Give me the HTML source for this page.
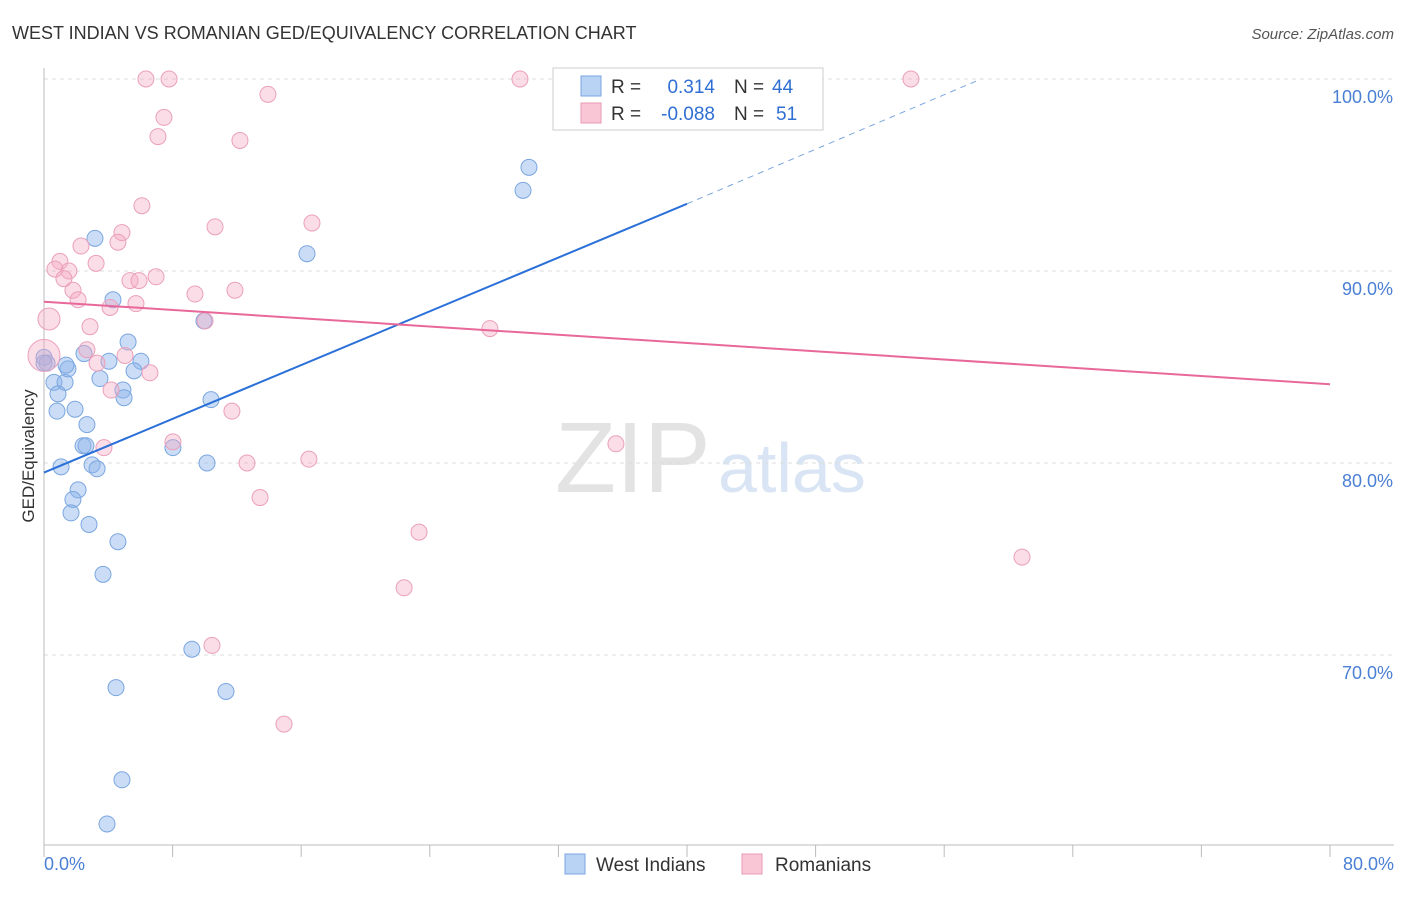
<!DOCTYPE html>
<html><head><meta charset="utf-8"><style>
body{margin:0;background:#fff;font-family:"Liberation Sans",sans-serif}
svg text{font-family:"Liberation Sans",sans-serif}
</style></head><body>
<svg id="c" width="1406" height="892" xmlns="http://www.w3.org/2000/svg">
<text x="12" y="39" font-size="18" fill="#333">WEST INDIAN VS ROMANIAN GED/EQUIVALENCY CORRELATION CHART</text>
<text x="1394" y="39" font-size="15" fill="#555" text-anchor="end" font-style="italic">Source: ZipAtlas.com</text>
<text x="34" y="456" font-size="17" fill="#333" text-anchor="middle" transform="rotate(-90 34 456)">GED/Equivalency</text>
<text x="555" y="492" font-size="100" fill="#e3e3e3" font-family="Liberation Serif">ZIP</text>
<text x="718" y="492" font-size="70" fill="#d9e5f4">atlas</text>
<g id="grid"></g><g id="axes"></g><g id="pts"></g><g id="lines"></g>
<g>
<rect x="553" y="68" width="270" height="62" fill="#fff" stroke="#ccc"/>
<rect x="581" y="76" width="20" height="20" fill="#b8d3f3" stroke="#7aa6e0"/>
<rect x="581" y="103" width="20" height="20" fill="#f9c6d6" stroke="#e79ab4"/>
<text x="611" y="93" font-size="19" fill="#333">R =</text>
<text x="715" y="93" font-size="19" fill="#2f6fd3" text-anchor="end">0.314</text>
<text x="734" y="93" font-size="19" fill="#333">N =</text>
<text x="772" y="93" font-size="19" fill="#2f6fd3">44</text>
<text x="611" y="120" font-size="19" fill="#333">R =</text>
<text x="715" y="120" font-size="19" fill="#2f6fd3" text-anchor="end">-0.088</text>
<text x="734" y="120" font-size="19" fill="#333">N =</text>
<text x="776" y="120" font-size="19" fill="#2f6fd3">51</text>
</g>
<g>
<rect x="565" y="854" width="20" height="20" fill="#b8d3f3" stroke="#7aa6e0"/>
<text x="596" y="871" font-size="19" fill="#333">West Indians</text>
<rect x="742" y="854" width="20" height="20" fill="#f9c6d6" stroke="#e79ab4"/>
<text x="775" y="871" font-size="19" fill="#333">Romanians</text>
</g>
</svg>
<script>
const yTicks=[100,90,80,70];
const xTickLabels=["0.0%","80.0%"];
const blueX=[0,0.19,0.62,1.31,0.87,0.81,1.93,2.67,1.49,1.37,2.49,3.17,4.29,3.48,4.04,5.23,6.03,5.6,4.91,4.98,2.43,2.61,1.06,2.99,3.3,2.12,1.8,1.68,2.8,4.6,3.67,8.02,9.95,10.39,10.14,16.36,30.17,29.8,9.2,4.48,11.32,4.85,3.92,0];
const blueY=[85.5,85.2,84.2,84.2,83.6,82.7,82.8,82.0,84.9,85.1,85.7,91.7,88.5,84.4,85.3,86.3,85.3,84.8,83.8,83.4,80.9,80.9,79.8,79.9,79.7,78.6,78.1,77.4,76.8,75.9,74.2,80.8,87.4,83.3,80.0,90.9,95.4,94.2,70.3,68.3,68.1,63.5,61.2,85.2];
const pinkX=[6.34,7.78,29.61,32.16,53.93,13.93,7.46,7.09,12.19,6.09,16.67,10.64,4.85,4.6,2.3,0.99,0.68,1.55,1.24,3.24,6.97,5.35,5.91,1.8,2.12,9.39,11.88,5.72,4.11,0.31,2.86,10.02,27.74,2.67,5.04,3.3,6.59,0,4.17,11.69,8.02,3.73,35.58,12.63,16.48,13.44,23.33,22.4,60.84,10.45,14.93];
const pinkY=[100,100,100,100,100,99.2,98.0,97.0,96.8,93.4,92.5,92.3,92.0,91.5,91.3,90.5,90.1,90.0,89.6,90.4,89.7,89.5,89.5,89.0,88.5,88.8,89.0,88.3,88.1,87.5,87.1,87.4,87.0,85.9,85.6,85.2,84.7,85.6,83.8,82.7,81.1,80.8,81.0,80.0,80.2,78.2,76.4,73.5,75.1,70.5,66.4];
const pinkR=[8,8,8,8,8,8,8,8,8,8,8,8,8,8,8,8,8,8,8,8,8,8,8,8,8,8,8,8,8,11,8,8,8,8,8,8,8,16,8,8,8,8,8,8,8,8,8,8,8,8,8];
const blueTrend=[[0,79.5],[40,93.5],[58.3,100]];
const pinkTrend=[[0,88.4],[80,84.1]];
const X=v=>44+v*16.075, Y=v=>79+(100-v)*19.2;
const NS="http://www.w3.org/2000/svg";
function mk(t,a,p){const e=document.createElementNS(NS,t);for(const k in a)e.setAttribute(k,a[k]);document.getElementById(p).appendChild(e);return e;}
yTicks.forEach(v=>{
 const l=mk('line',{x1:44,x2:1394,y1:Y(v),y2:Y(v),stroke:'#ddd','stroke-dasharray':'4,4'},'grid');
 
 
 const t=mk('text',{x:1393,y:Y(v)+24,'font-size':18,fill:'#4a7fd4','text-anchor':'end'},'grid');
 t.textContent=v.toFixed(1)+'%';
 
 
});
let a=mk('line',{x1:44,x2:44,y1:68,y2:845,stroke:'#bbb'},'axes');

a=mk('line',{x1:44,x2:1394,y1:845,y2:845,stroke:'#bbb'},'axes');

for(let i=0;i<=10;i++){const t=mk('line',{x1:X(i*8),x2:X(i*8),y1:845,y2:857,stroke:'#bbb'},'axes');
 }
[[0,'start',44],[80,'end',1394]].forEach((d,i)=>{const t=mk('text',{x:d[2],y:870,'font-size':18,fill:'#4a7fd4','text-anchor':d[1]},'axes');t.textContent=xTickLabels[i];
 });
blueX.forEach((x,i)=>{const c=mk('circle',{cx:X(x),cy:Y(blueY[i]),r:8,fill:'rgba(140,180,235,0.45)',stroke:'#7aa6e0','stroke-width':1},'pts');
 });
pinkX.forEach((x,i)=>{const c=mk('circle',{cx:X(x),cy:Y(pinkY[i]),r:pinkR[i],fill:'rgba(245,170,195,0.4)',stroke:'#eaa0ba','stroke-width':1},'pts');
 });
let l=mk('line',{x1:X(blueTrend[0][0]),y1:Y(blueTrend[0][1]),x2:X(blueTrend[1][0]),y2:Y(blueTrend[1][1]),stroke:'#2a70d8','stroke-width':2},'lines');

l=mk('line',{x1:X(blueTrend[1][0]),y1:Y(blueTrend[1][1]),x2:X(blueTrend[2][0]),y2:Y(blueTrend[2][1]),stroke:'#7aa6e0','stroke-width':1,'stroke-dasharray':'6,5'},'lines');

l=mk('line',{x1:X(pinkTrend[0][0]),y1:Y(pinkTrend[0][1]),x2:X(pinkTrend[1][0]),y2:Y(pinkTrend[1][1]),stroke:'#e8689a','stroke-width':2},'lines');

</script>
</body></html>
